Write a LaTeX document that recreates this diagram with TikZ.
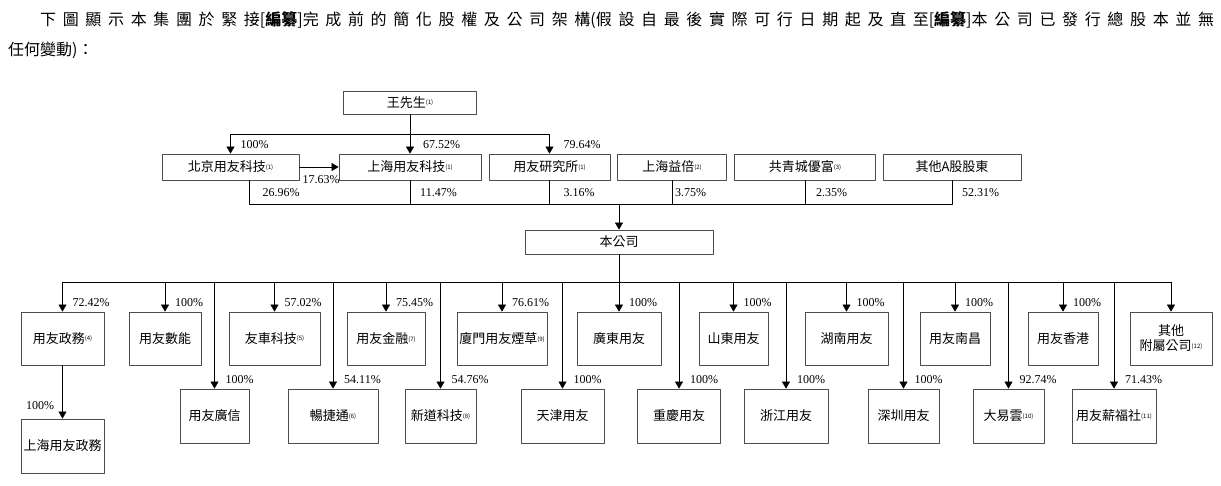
\documentclass[tikz,border=0pt]{standalone}
\usepackage{fontspec}
\setmainfont{Liberation Serif}
\newfontfamily\cjk{Noto Sans CJK TC}
\newfontfamily\cjkwide[LetterSpace=41.5]{Noto Sans CJK TC}
\usetikzlibrary{arrows.meta}
\newcommand{\fn}[1]{\raisebox{0.35ex}{\fontsize{6}{6}\selectfont(#1)}}
\newcommand{\redact}{{\cjk[\textbf{編纂}]}}
\tikzset{
  co/.style={draw=black!70, line width=0.8pt, inner sep=0pt, font=\cjk\fontsize{13}{15}\selectfont},
  pct/.style={anchor=base west, inner sep=0pt, font=\fontsize{12}{12}\selectfont},
  intro/.style={anchor=base west, inner sep=0pt, font=\fontsize{16}{16}\selectfont},
}
\begin{document}
\begin{tikzpicture}[x=1pt, y=-1pt, line cap=round, line join=round, >={Triangle[width=8pt,length=7pt]}]
\useasboundingbox (0,0) rectangle (1221,485);
\node[intro] (intro1) at (40,25) {\cjkwide 下圖顯示本集團於緊接\redact 完成前的簡化股權及公司架構{\cjk(}假設自最後實際可行日期起及直至\redact 本公司已發行總股本並無};
\node[intro] (intro2) at (8,55) {\cjk 任何變動)：};
% shareholders
\node[co, minimum width=133pt, minimum height=23pt] (wang) at (410,102.5) {王先生\fn{1}};
\foreach \nm/\x/\w/\t in {bj/230.5/137/{北京用友科技\fn{1}}, sh/410/142/{上海用友科技\fn{1}}, yj/549.5/121/{用友研究所\fn{1}}, yb/672/109/{上海益倍\fn{2}}, gq/805/141/{共青城優富\fn{3}}, qt/952/138/{其他A股股東}}{
  \node[co, minimum width=\w pt, minimum height=26pt] (\nm) at (\x,167) {\t};
}
\coordinate (tb) at (410,134);
\draw (wang.south) -- (tb);
\draw[->] (tb) -- (sh.north);
\draw[->] (tb) -| (bj.north);
\draw[->] (tb) -| (yj.north);
\node[pct] at ([xshift=10pt,yshift=5.5pt]bj.north) {100\%};
\node[pct] at ([xshift=13pt,yshift=5.5pt]sh.north) {67.52\%};
\node[pct] at ([xshift=14pt,yshift=5.5pt]yj.north) {79.64\%};
\draw[->] (bj.east) -- (sh.west);
\node[pct] at ([xshift=3pt,yshift=-16pt]bj.east) {17.63\%};
% company
\node[co, minimum width=188pt, minimum height=24pt] (bgs) at (619,242) {本公司};
\coordinate (mb) at (619,204);
\draw ([xshift=19pt]bj.south) |- (mb);
\draw (qt.south) |- (mb);
\foreach \nm in {sh,yj,yb,gq}{\draw (\nm.south) -- (\nm.south |- mb);}
\draw[->] (mb) -- (bgs.north);
\node[pct] at ([xshift=32pt,yshift=7.5pt]bj.south |- mb) {26.96\%};
\foreach \nm/\dx/\p in {sh/10/11.47, yj/14/3.16, yb/3/3.75, gq/11/2.35, qt/10/52.31}{
  \node[pct] at ([xshift=\dx pt,yshift=7.5pt]\nm.south |- mb) {\p\%};
}
% subsidiaries
\coordinate (sb) at (619,282);
\draw (bgs.south) -- (sb);
\foreach \nm/\x/\w/\t/\p in {zw/62.5/83/{用友政務\fn{4}}/72.42, sn/165/72/{用友數能}/100, yc/274.5/91/{友車科技\fn{5}}/57.02, jr/386/78/{用友金融\fn{7}}/75.45, xm/502/90/{廈門用友煙草\fn{9}}/76.61, gd/619/84/{廣東用友}/100, sd/733.5/69/{山東用友}/100, hn/846.5/83/{湖南用友}/100, nc/955/70/{用友南昌}/100, xg/1063/70/{用友香港}/100}{
  \node[co, minimum width=\w pt, minimum height=53pt] (\nm) at (\x,338.5) {\t};
  \draw[->] (\nm.north |- sb) -- (\nm.north);
  \node[pct] at ([xshift=10pt,yshift=5.5pt]\nm.north) {\p\%};
}
\node[co, minimum width=82pt, minimum height=53pt, align=center] (qtfs) at (1171,338.5) {其他\\附屬公司\fn{12}};
\draw[->] (qtfs.north |- sb) -- (qtfs.north);
\foreach \nm/\x/\w/\t/\p in {gx/214.5/69/{用友廣信}/100, cjt/333/90/{暢捷通\fn{6}}/54.11, xd/440.5/71/{新道科技\fn{8}}/54.76, tj/562.5/83/{天津用友}/100, cq/679/83/{重慶用友}/100, zj/786/84/{浙江用友}/100, sz/903.5/71/{深圳用友}/100, dyy/1008.5/71/{大易雲\fn{10}}/92.74, xfs/1114/84/{用友薪福社\fn{11}}/71.43}{
  \node[co, minimum width=\w pt, minimum height=54pt] (\nm) at (\x,416) {\t};
  \draw[->] (\nm.north |- sb) -- (\nm.north);
  \node[pct] at ([xshift=11pt,yshift=5.5pt]\nm.north) {\p\%};
}
\draw (zw.north |- sb) -- (qtfs.north |- sb);
\node[co, minimum width=83pt, minimum height=54pt] (shzw) at (62.5,446) {上海用友政務};
\draw[->] (zw.south) -- (shzw.north);
\node[pct] at (26,409.5) {100\%};
\end{tikzpicture}
\end{document}
